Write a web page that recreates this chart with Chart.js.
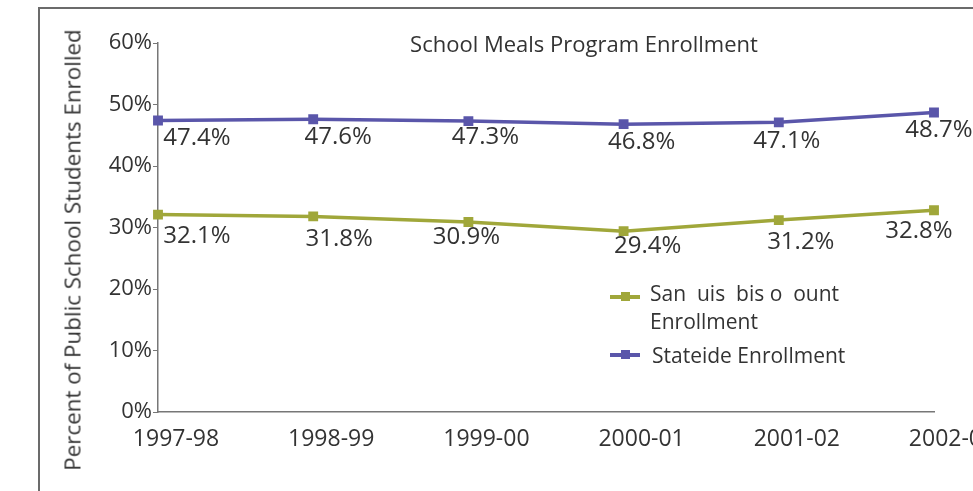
<!DOCTYPE html>
<html><head><meta charset="utf-8">
<script src="https://cdn.jsdelivr.net/npm/chart.js@4"></script>
<style>
html,body{margin:0;padding:0;background:#fff;overflow:hidden;}
#wrap{position:relative;width:973px;height:491px;overflow:hidden;font-family:"Open Sans",sans-serif;color:#333;}
#frame{position:absolute;left:38px;top:7px;width:1100px;height:600px;border:2px solid #6b6b6b;box-sizing:border-box;}
#c{position:absolute;left:0;top:0;}
.t{position:absolute;white-space:nowrap;}
#title{left:584px;top:43px;transform:translate(-50%,-50%);font-size:22px;}
#ytitle{left:72px;top:250px;transform:translate(-50%,-50%) rotate(-90deg);font-size:22.4px;}
.leg{position:absolute;font-size:21px;line-height:28px;}
.sw{position:absolute;width:30px;height:4px;}
.sw i{position:absolute;left:11px;top:-3px;width:9px;height:9px;}
</style></head>
<body><div id="wrap">
<div id="frame"></div>
<canvas id="c" width="973" height="491"></canvas>
<div class="t" id="title">School Meals Program Enrollment</div>
<div class="t" id="ytitle">Percent of Public School Students Enrolled</div>
<div class="sw" style="left:610px;top:295px;background:#a0a73a"><i style="background:#a0a73a"></i></div>
<div class="leg" style="left:650px;top:279px;">San&nbsp; uis&nbsp; bis o&nbsp; ount<br>Enrollment</div>
<div class="sw" style="left:610px;top:353px;background:#5a56aa"><i style="background:#5a56aa"></i></div>
<div class="leg" style="left:652px;top:341px;">Stateide Enrollment</div>
</div>
<script>
const categories = ["1997-98","1998-99","1999-00","2000-01","2001-02","2002-03"];
const countyValues = [32.1, 31.8, 30.9, 29.4, 31.2, 32.8];
const statewideValues = [47.4, 47.6, 47.3, 46.8, 47.1, 48.7];
const yTicks = [0,10,20,30,40,50,60];

// label placement (style only)
const countyLabelDx = [39, 26, -2, 24, 22, -15];
const countyLabelDy = [22, 23, 15, 15, 22, 21];
const stateLabelDx = [39, 25, 17, 18, 8, 5];
const stateLabelDy = [18, 18, 16, 18, 19, 18];

const labelPlugin = {
  id:'vlabels',
  afterDatasetsDraw(chart){
    const ctx = chart.ctx;
    ctx.save();
    ctx.font = '24px "Open Sans", sans-serif';
    ctx.fillStyle = '#333';
    ctx.textAlign = 'center';
    ctx.textBaseline = 'middle';
    chart.data.datasets.forEach((ds, di) => {
      const meta = chart.getDatasetMeta(di);
      const dx = di === 0 ? countyLabelDx : stateLabelDx;
      const dy = di === 0 ? countyLabelDy : stateLabelDy;
      meta.data.forEach((pt, i) => {
        ctx.fillText(ds.data[i].toFixed(1) + '%', pt.x + dx[i], pt.y + dy[i]);
      });
    });
    ctx.restore();
  }
};

new Chart(document.getElementById('c'), {
  type:'line',
  data:{
    labels: categories,
    datasets:[
      {label:'San Luis Obispo County Enrollment', data: countyValues, borderColor:'#a0a73a', backgroundColor:'#a0a73a', borderWidth:3.5, pointStyle:'rect', pointRadius:4.5, tension:0},
      {label:'Statewide Enrollment', data: statewideValues, borderColor:'#5a56aa', backgroundColor:'#5a56aa', borderWidth:3.5, pointStyle:'rect', pointRadius:4.5, tension:0}
    ]
  },
  options:{
    responsive:false, animation:false, devicePixelRatio:1,
    layout:{padding:{left:0, top:43, right:39, bottom:39}},
    plugins:{legend:{display:false}, title:{display:false}, tooltip:{enabled:false}},
    scales:{
      x:{
        offset:false,
        grid:{display:false, drawTicks:false},
        border:{display:true, color:'#777', width:1.5},
        ticks:{color:'#333', font:{family:'"Open Sans", sans-serif', size:23}, padding:14, labelOffset:18, maxRotation:0, autoSkip:false},
        afterFit(s){ s.height = 40; s.paddingLeft = 0; s.paddingRight = 0; }
      },
      y:{
        min:0, max:60,
        afterBuildTicks(s){ s.ticks = yTicks.map(v => ({value:v})); },
        grid:{display:true, drawOnChartArea:false, drawTicks:true, tickLength:5, color:'#777'},
        border:{display:true, color:'#777', width:1.5},
        ticks:{color:'#333', font:{family:'"Open Sans", sans-serif', size:22}, padding:1, callback:v => v + '%'},
        afterFit(s){ s.width = 158; s.paddingTop = 0; s.paddingBottom = 0; }
      }
    }
  },
  plugins:[labelPlugin]
});
</script>
</body></html>
